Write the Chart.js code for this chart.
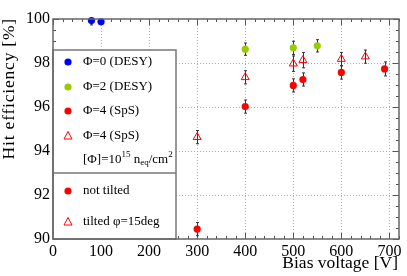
<!DOCTYPE html>
<html>
<head>
<meta charset="utf-8">
<script src="https://cdn.jsdelivr.net/npm/chart.js@4.4.0/dist/chart.umd.min.js"></script>
<style>
  html, body { margin: 0; padding: 0; background: #fff; }
  #wrap { width: 407px; height: 276px; }
</style>
</head>
<body>
<div id="wrap"><canvas id="effChart" width="407" height="276"></canvas></div>
<script>
// --- Data (bias voltage [V], hit efficiency [%], error [%]) ---
const phi0DesyV = [80, 100];
const phi0DesyEff = [99.93, 99.87];
const phi0DesyErr = [0.2, 0.1];

const phi2DesyV = [400, 500, 550];
const phi2DesyEff = [98.63, 98.69, 98.78];
const phi2DesyErr = [0.28, 0.3, 0.28];

const phi4SpsV = [300, 400, 500, 520, 600, 690];
const phi4SpsEff = [90.45, 96.02, 96.98, 97.25, 97.57, 97.73];
const phi4SpsErr = [0.3, 0.3, 0.3, 0.3, 0.3, 0.32];

const phi4TiltV = [300, 400, 500, 520, 600, 650];
const phi4TiltEff = [94.63, 97.35, 97.97, 98.13, 98.18, 98.29];
const phi4TiltErr = [0.3, 0.3, 0.35, 0.35, 0.3, 0.3];

const xTicks = [0, 100, 200, 300, 400, 500, 600, 700];
const yTicks = [90, 92, 94, 96, 98, 100];

const serif = '"Liberation Serif", "DejaVu Serif", serif';
const BLUE = '#0000ff';
const GREEN = '#99cc00';
const RED = '#ff0000';

function pts(xs, ys) {
    return xs.map((x, i) => ({ x: x, y: ys[i] }));
}

const errors = [phi0DesyErr, phi2DesyErr, phi4SpsErr, phi4TiltErr];

// --- ROOT-like frame, grid, ticks, error bars and legend ---
const rootStyle = {
    id: 'rootStyle',
    beforeDatasetsDraw(chart) {
        const { ctx, chartArea: a, scales: { x, y } } = chart;
        ctx.save();

        // dotted grid
        ctx.strokeStyle = '#aaaaaa';
        ctx.lineWidth = 1;
        ctx.setLineDash([1, 2]);
        xTicks.forEach(v => {
            if (v <= x.min) return;
            const px = Math.round(x.getPixelForValue(v)) + 0.5;
            ctx.beginPath(); ctx.moveTo(px, a.top); ctx.lineTo(px, a.bottom); ctx.stroke();
        });
        yTicks.forEach(v => {
            if (v <= y.min || v >= y.max) return;
            const py = Math.round(y.getPixelForValue(v)) + 0.5;
            ctx.beginPath(); ctx.moveTo(a.left, py); ctx.lineTo(a.right, py); ctx.stroke();
        });
        ctx.setLineDash([]);

        // inward ticks on all four sides
        ctx.strokeStyle = '#555';
        for (let v = 0; v <= x.max; v += 20) {
            const px = Math.round(x.getPixelForValue(v)) + 0.5;
            const len = v % 100 === 0 ? 6 : 3;
            ctx.beginPath(); ctx.moveTo(px, a.bottom); ctx.lineTo(px, a.bottom - len); ctx.stroke();
            ctx.beginPath(); ctx.moveTo(px, a.top); ctx.lineTo(px, a.top + len); ctx.stroke();
        }
        for (let v = 90; v <= 100; v += 0.5) {
            const py = Math.round(y.getPixelForValue(v)) + 0.5;
            const len = v % 2 === 0 ? 6 : 3;
            ctx.beginPath(); ctx.moveTo(a.left, py); ctx.lineTo(a.left + len, py); ctx.stroke();
            ctx.beginPath(); ctx.moveTo(a.right, py); ctx.lineTo(a.right - len, py); ctx.stroke();
        }

        // error bars
        ctx.strokeStyle = '#333';
        ctx.lineWidth = 1;
        chart.data.datasets.forEach((ds, di) => {
            const meta = chart.getDatasetMeta(di);
            ds.data.forEach((p, i) => {
                const e = errors[di][i];
                const px = Math.round(meta.data[i].x) + 0.5;
                const y1 = Math.max(y.getPixelForValue(p.y + e), a.top);
                const y2 = y.getPixelForValue(p.y - e);
                ctx.beginPath(); ctx.moveTo(px, y1); ctx.lineTo(px, y2); ctx.stroke();
                ctx.beginPath(); ctx.moveTo(px - 1.5, y1); ctx.lineTo(px + 1.5, y1); ctx.stroke();
                ctx.beginPath(); ctx.moveTo(px - 1.5, y2); ctx.lineTo(px + 1.5, y2); ctx.stroke();
            });
        });
        ctx.restore();
    },
    afterDatasetsDraw(chart) {
        const { ctx, chartArea: a } = chart;
        ctx.save();

        // legend box
        const lx = a.left, lr = 176, lt = 50, lb = a.bottom;
        ctx.fillStyle = '#fff';
        ctx.fillRect(lx, lt, lr - lx, lb - lt);
        ctx.strokeStyle = '#777';
        ctx.lineWidth = 1.5;
        ctx.strokeRect(lx, lt, lr - lx, lb - lt);
        ctx.beginPath(); ctx.moveTo(lx, 173); ctx.lineTo(lr, 173); ctx.stroke();

        const mx = 68, tx = 83;
        const circle = (cx, cy, col) => {
            ctx.fillStyle = col;
            ctx.beginPath(); ctx.arc(cx, cy, 3.6, 0, Math.PI * 2); ctx.fill();
        };
        const tri = (cx, cy) => {
            ctx.strokeStyle = RED; ctx.lineWidth = 1;
            ctx.beginPath();
            ctx.moveTo(cx, cy - 4.5); ctx.lineTo(cx + 4, cy + 3); ctx.lineTo(cx - 4, cy + 3);
            ctx.closePath(); ctx.stroke();
        };
        ctx.font = '13px ' + serif;
        ctx.fillStyle = '#000';
        ctx.textBaseline = 'middle';
        ctx.textAlign = 'left';

        const rows = [
            { y: 62, label: 'Φ=0 (DESY)', mark: cy => circle(mx, cy, BLUE) },
            { y: 87, label: 'Φ=2 (DESY)', mark: cy => circle(mx, cy, GREEN) },
            { y: 111, label: 'Φ=4 (SpS)', mark: cy => circle(mx, cy, RED) },
            { y: 136, label: 'Φ=4 (SpS)', mark: cy => tri(mx, cy) },
            { y: 191, label: 'not tilted', mark: cy => circle(mx, cy, RED) },
            { y: 222, label: 'tilted φ=15deg', mark: cy => tri(mx, cy) }
        ];
        rows.forEach(r => {
            r.mark(r.y);
            ctx.fillStyle = '#000';
            ctx.fillText(r.label, tx, r.y);
        });

        // [Φ]=10^15 n_eq/cm^2
        const segs = [
            ['[Φ]=10', 0, 13], ['15', -5, 9], [' n', 0, 13], ['eq', 3, 9], ['/cm', 0, 13], ['2', -5, 9]
        ];
        let cx = tx;
        segs.forEach(([s, dy, size]) => {
            ctx.font = size + 'px ' + serif;
            ctx.fillText(s, cx, 160 + dy);
            cx += ctx.measureText(s).width;
        });

        // frame
        ctx.strokeStyle = '#666';
        ctx.lineWidth = 1.5;
        ctx.strokeRect(a.left, a.top, a.right - a.left, a.bottom - a.top);

        // axis titles
        ctx.fillStyle = '#000';
        ctx.font = '17.5px ' + serif;
        ctx.textBaseline = 'alphabetic';
        ctx.textAlign = 'right';
        ctx.fillText('Bias voltage [V]', 398, 268);
        ctx.letterSpacing = '0.8px';
        ctx.translate(14, 18);
        ctx.rotate(-Math.PI / 2);
        ctx.fillText('Hit efficiency [%]', 0, 0);
        ctx.restore();
    }
};

const ctx = document.getElementById('effChart').getContext('2d');
const chart = new Chart(ctx, {
    type: 'scatter',
    data: {
        datasets: [
            {
                label: 'Φ=0 (DESY)',
                data: pts(phi0DesyV, phi0DesyEff),
                pointStyle: 'circle', pointRadius: 3.6,
                backgroundColor: BLUE, borderColor: BLUE, borderWidth: 0
            },
            {
                label: 'Φ=2 (DESY)',
                data: pts(phi2DesyV, phi2DesyEff),
                pointStyle: 'circle', pointRadius: 3.6,
                backgroundColor: GREEN, borderColor: GREEN, borderWidth: 0
            },
            {
                label: 'Φ=4 (SpS)',
                data: pts(phi4SpsV, phi4SpsEff),
                pointStyle: 'circle', pointRadius: 3.6,
                backgroundColor: RED, borderColor: RED, borderWidth: 0
            },
            {
                label: 'Φ=4 (SpS) tilted',
                data: pts(phi4TiltV, phi4TiltEff),
                pointStyle: 'triangle', pointRadius: 4.6,
                backgroundColor: 'rgba(255,255,255,0)', borderColor: RED, borderWidth: 1
            }
        ]
    },
    options: {
        responsive: false,
        animation: false,
        clip: false,
        layout: { padding: { top: 19, right: 8, left: 0, bottom: 0 } },
        plugins: {
            legend: { display: false },
            tooltip: { enabled: false }
        },
        scales: {
            x: {
                type: 'linear',
                min: 0,
                max: 720,
                afterFit: s => { s.height = 37; },
                grid: { display: false, drawTicks: false },
                border: { display: false },
                ticks: {
                    stepSize: 100,
                    includeBounds: false,
                    padding: 3,
                    color: '#000',
                    font: { family: serif, size: 16 }
                }
            },
            y: {
                type: 'linear',
                min: 90,
                max: 100,
                afterFit: s => { s.width = 53; },
                grid: { display: false, drawTicks: false },
                border: { display: false },
                ticks: {
                    stepSize: 2,
                    padding: 3,
                    color: '#000',
                    font: { family: serif, size: 16 }
                }
            }
        }
    },
    plugins: [rootStyle]
});
</script>
</body>
</html>
